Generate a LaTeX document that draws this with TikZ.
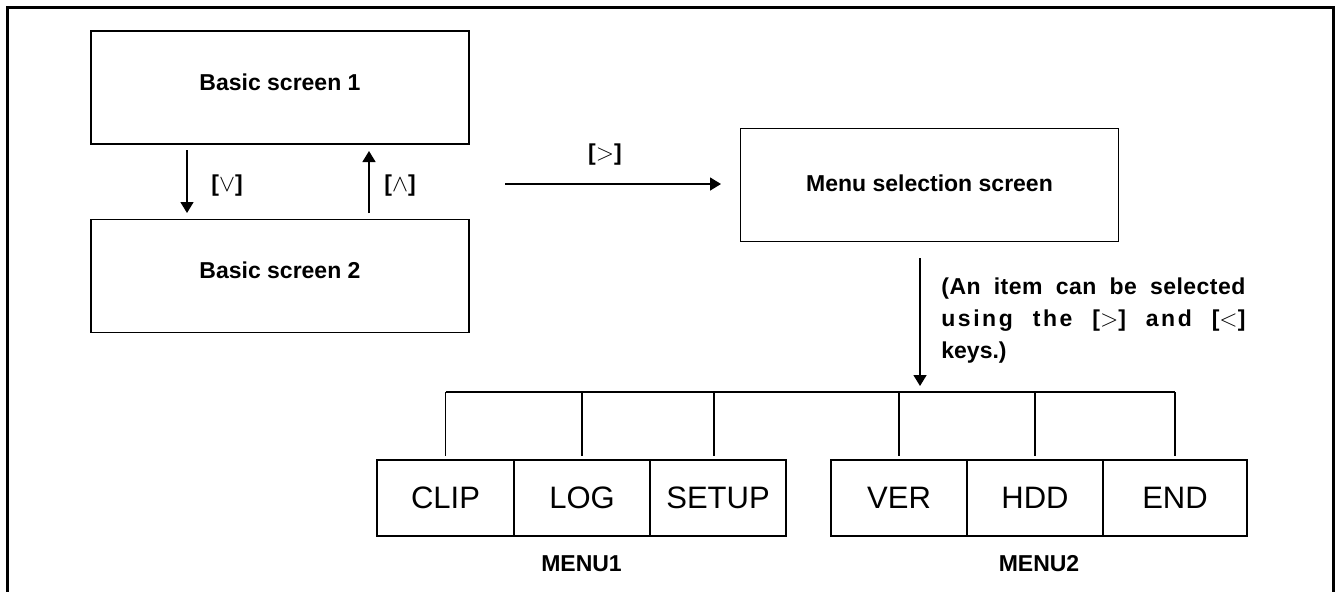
\documentclass[tikz,border=0pt]{standalone}
\usepackage{fontspec}
\setmainfont{Liberation Sans}
\usetikzlibrary{arrows.meta}
\begin{document}
\begin{tikzpicture}[x=0.5pt,y=-0.5pt,
  scr/.style={draw, line width=0.8pt, minimum width=189pt, minimum height=56.5pt, inner sep=0pt},
  item/.style={draw, line width=0.8pt, minimum height=38pt, minimum width=68pt, inner sep=0pt,
    font=\fontsize{15.5}{18}\selectfont},
  lbl/.style={font=\bfseries\fontsize{11.5}{13}\selectfont, inner sep=0pt},
  arr/.style={line width=0.75pt, -{Triangle[length=5.5pt,width=6.5pt]}},
  ln/.style={line width=0.75pt}
]
\useasboundingbox (0,0) rectangle (1336,591);
% frame
\draw[line width=1.5pt, line join=miter] (7,600) -- (7,7) -- (1333,7) -- (1333,600);

% screens
\node[scr, label={[lbl,yshift=2.5pt,name=b1t]center:Basic screen 1}] (b1) at (280,87.5) {};
\node[scr, label={[lbl,yshift=3pt,name=b2t]center:Basic screen 2}] (b2) at (280,276) {};
\node[scr, label={[lbl,yshift=1pt,name=mt]center:Menu selection screen}] (menu) at (929.5,185) {};

% arrows between basic screens
\coordinate (dA) at (187,150);
\coordinate (dB) at (187,213);
\coordinate (uA) at (369,213);
\coordinate (uB) at (369,151);
\draw[arr] (dA) -- (dB);
\draw[arr] (uA) -- (uB);
\node[lbl] (kdown) at (227,186) {[$\vee$]};
\node[lbl] (kup) at (400,186) {[$\wedge$]};

% arrow to menu
\coordinate (rA) at (505,184);
\coordinate (rB) at (721,184);
\draw[arr] (rA) -- (rB);
\node[lbl] (kright) at (605,155) {[$>$]};

% arrow down from menu
\coordinate (mA) at (920,258);
\coordinate (mB) at (920,386);
\draw[arr] (mA) -- (mB);
\node[anchor=base west, inner sep=0pt] (note) at (941,294) {\parbox[t]{152pt}{\bfseries\fontsize{11.5}{16}\selectfont
\makebox[152pt][s]{\addfontfeatures{LetterSpace=2}(An item can be selected}\\
\makebox[152pt][s]{\addfontfeatures{LetterSpace=11}using the [$>$] and [$<$]}\\
{keys.)}}};

% menu items
\node[item, minimum width=68.5pt] (clip) at (445.5,498) {CLIP};
\node[item] (log) at (582,498) {LOG};
\node[item] (setup) at (718,498) {SETUP};
\node[item] (ver) at (899,498) {VER};
\node[item] (hdd) at (1035,498) {HDD};
\node[item, minimum width=72pt] (endb) at (1175,498) {END};

% bus
\coordinate (bus) at (446,392);
\draw[ln] (clip.north |- bus) -- (endb.north |- bus);
\foreach \n in {clip,log,ver,hdd,endb}{
  \draw[ln] (\n.north |- bus) -- ([yshift=1.5pt]\n.north);
}
\draw[ln] ([xshift=-2pt]setup.north |- bus) -- ([xshift=-2pt,yshift=1.5pt]setup.north);

\node[lbl] (menu1) at (581.5,564) {MENU1};
\node[lbl] (menu2) at (1039,564) {MENU2};
\end{tikzpicture}
\end{document}
